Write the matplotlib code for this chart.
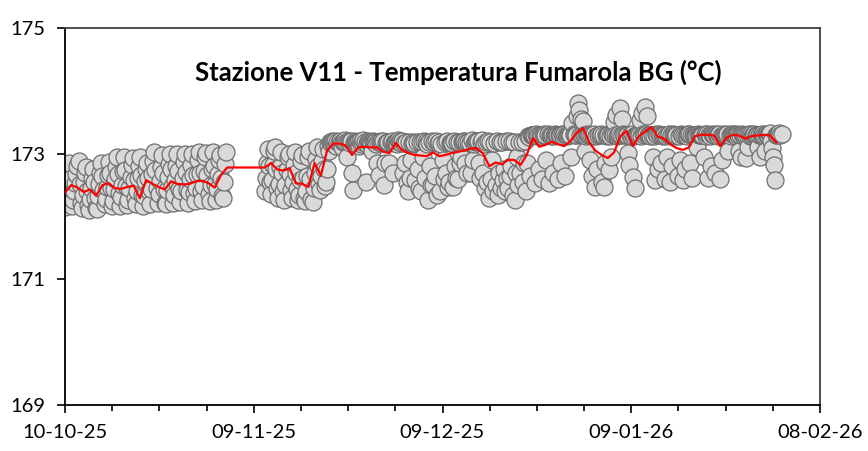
import numpy as np
import matplotlib
matplotlib.use("Agg")
import matplotlib.pyplot as plt
import matplotlib.dates as mdates

plt.rcParams['font.family'] = ['Lato', 'DejaVu Sans']

# --- letture ogni 4 ore (6 valori al giorno) ---
inizio_1 = np.datetime64('2025-10-10T00:00')
temp_1 = [
    172.15, 172.32, 172.50, 172.66, 172.85, 172.60,
    172.38, 172.16, 172.26, 172.40, 172.53, 172.68,
    172.80, 172.88, 172.52, 172.22, 172.13, 172.35,
    172.55, 172.70, 172.78, 172.40, 172.18, 172.11,
    172.28, 172.45, 172.62, 172.76, 172.55, 172.30,
    172.14, 172.12, 172.33, 172.52, 172.70, 172.85,
    172.64, 172.42, 172.20, 172.28, 172.47, 172.66,
    172.86, 172.70, 172.45, 172.16, 172.25, 172.43,
    172.60, 172.79, 172.94, 172.68, 172.38, 172.17,
    172.31, 172.50, 172.72, 172.95, 172.74, 172.48,
    172.19, 172.27, 172.46, 172.63, 172.82, 172.93,
    172.58, 172.30, 172.20, 172.40, 172.61, 172.80,
    172.95, 172.66, 172.35, 172.17, 172.33, 172.56,
    172.76, 172.85, 172.62, 172.40, 172.20, 172.44,
    172.68, 172.88, 173.02, 172.74, 172.45, 172.21,
    172.36, 172.57, 172.78, 172.98, 172.70, 172.43,
    172.22, 172.20, 172.42, 172.63, 172.84, 173.00,
    172.75, 172.48, 172.21, 172.35, 172.58, 172.80,
    172.99, 172.72, 172.44, 172.23, 172.40, 172.62,
    172.86, 173.00, 172.71, 172.42, 172.21, 172.39,
    172.60, 172.82, 172.99, 172.66, 172.38, 172.24,
    172.45, 172.68, 172.90, 173.02, 172.70, 172.41,
    172.26, 172.48, 172.72, 172.95, 173.01, 172.66,
    172.36, 172.24, 172.50, 172.76, 173.03, 172.80,
    172.52, 172.27, 172.44, 172.68, 172.90, 172.98,
    172.62, 172.32, 172.29, 172.55, 172.83, 173.03,
]

inizio_2 = np.datetime64('2025-11-11T00:00')
temp_2 = [
    172.40, 172.62, 172.85, 173.08, 172.80, 172.55,
    172.36, 172.58, 172.82, 173.05, 173.10, 172.75,
    172.45, 172.29, 172.52, 172.78, 173.02, 172.70,
    172.40, 172.27, 172.50, 172.74, 172.95, 173.00,
    172.68, 172.42, 172.30, 172.55, 172.82, 173.03,
    172.70, 172.44, 172.26, 172.35, 172.58, 172.88,
    172.98, 172.62, 172.30, 172.24, 172.40, 172.65,
    172.95, 173.05, 172.60, 172.28, 172.23, 172.45,
    172.70, 172.92, 173.10, 172.80, 172.52, 172.42,
    172.65, 172.88, 173.08, 172.75, 172.48, 172.55,
    172.75, 173.12, 173.05, 173.18, 173.17, 173.20,
    173.18, 173.15, 173.20, 173.12, 173.19, 173.17,
    173.20, 173.17, 173.10, 173.18, 173.19, 173.21,
    173.18, 172.95, 173.20, 173.19, 173.17, 173.20,
    172.69, 172.42, 173.17, 173.20, 173.19, 173.18,
    173.18, 173.12, 173.20, 173.16, 173.19, 173.21,
    173.19, 172.55, 173.15, 173.20, 173.18, 173.17,
    173.17, 173.05, 173.20, 173.18, 173.19, 173.16,
    172.85, 173.18, 172.66, 173.19, 173.20, 173.17,
    173.20, 172.50, 172.85, 173.17, 173.19, 173.18,
    172.85, 173.18, 173.20, 172.70, 173.17, 173.19,
    173.19, 173.15, 173.21, 173.18, 173.20, 173.17,
    173.20, 172.69, 173.17, 172.85, 173.19, 172.55,
    172.40, 173.18, 172.62, 172.90, 173.17, 173.19,
    173.17, 172.58, 173.19, 172.75, 172.45, 173.18,
    172.40, 173.18, 172.95, 173.20, 172.62, 173.19,
    173.15, 172.26, 173.19, 172.80, 172.50, 173.20,
    172.50, 173.18, 172.65, 173.20, 172.34, 173.17,
    173.19, 172.40, 173.16, 172.90, 172.60, 173.18,
    172.69, 173.20, 172.47, 172.55, 173.17, 173.19,
    173.17, 172.47, 173.20, 172.80, 172.62, 173.18,
    172.60, 173.19, 172.85, 172.95, 173.18, 173.20,
    173.20, 172.85, 173.18, 172.70, 173.19, 173.17,
    172.70, 173.21, 172.90, 173.15, 173.18, 173.20,
    173.18, 173.20, 172.85, 172.62, 173.19, 173.21,
    172.70, 173.15, 172.45, 173.19, 172.55, 173.20,
    172.29, 173.18, 172.60, 172.90, 172.40, 173.17,
    172.50, 173.20, 172.34, 172.70, 173.18, 172.45,
    173.19, 172.58, 172.75, 172.40, 173.20, 172.62,
    172.45, 173.20, 172.65, 172.80, 173.18, 172.35,
    173.18, 172.26, 172.70, 172.95, 172.50, 173.19,
    172.70, 173.19, 172.55, 172.85, 173.20, 172.40,
    172.85, 173.28, 173.26, 172.65, 173.30, 173.29,
    173.30, 173.29, 172.53, 173.31, 173.28, 173.30,
    172.75, 173.30, 173.28, 172.60, 173.29, 173.31,
    173.29, 172.90, 173.31, 172.53, 173.30, 173.28,
    173.30, 172.70, 173.28, 173.31, 173.29, 173.30,
    172.60, 173.29, 173.30, 172.85, 173.31, 173.28,
    173.31, 172.65, 173.29, 173.28, 173.30, 173.32,
    173.30, 172.95, 173.49, 173.31, 173.29, 173.30,
    173.60, 173.80, 173.70, 173.29, 173.55, 173.30,
    173.52, 173.30, 173.05, 173.28, 173.31, 173.29,
    173.29, 172.90, 173.30, 172.65, 173.28, 173.31,
    172.47, 173.28, 172.75, 173.30, 173.29, 173.31,
    172.55, 173.29, 172.47, 172.85, 173.30, 173.28,
    173.30, 172.74, 173.28, 172.95, 173.31, 173.29,
    173.50, 173.29, 173.62, 173.28, 173.30, 173.31,
    173.73, 173.30, 173.55, 173.31, 173.29, 173.30,
    173.29, 173.01, 172.82, 173.30, 173.28, 173.31,
    172.63, 173.28, 172.45, 173.29, 173.30, 173.31,
    173.30, 173.53, 173.28, 173.64, 173.31, 173.29,
    173.74, 173.31, 173.60, 173.29, 173.30, 173.28,
    173.30, 172.95, 173.28, 172.58, 173.31, 173.29,
    172.75, 173.31, 173.29, 172.85, 173.30, 173.28,
    173.30, 172.60, 173.28, 172.95, 173.29, 173.31,
    172.55, 173.29, 172.80, 173.31, 173.30, 173.28,
    173.30, 172.65, 173.28, 172.90, 173.31, 173.29,
    172.58, 173.29, 172.75, 173.30, 173.28, 173.31,
    173.31, 172.85, 173.29, 172.62, 173.30, 173.28,
    173.28, 173.30, 173.10, 173.31, 173.29, 173.30,
    173.30, 173.29, 172.95, 173.32, 173.28, 173.31,
    172.62, 173.30, 173.28, 172.80, 173.31, 173.29,
    173.29, 172.70, 173.31, 173.30, 173.28, 173.32,
    172.60, 173.28, 172.90, 173.29, 173.31, 173.30,
    173.30, 173.31, 173.05, 173.29, 173.28, 173.32,
    173.32, 173.29, 173.30, 173.28, 173.31, 173.30,
    173.05, 173.30, 172.95, 173.31, 173.29, 173.28,
    173.29, 172.93, 173.30, 173.10, 173.31, 173.28,
    173.31, 173.28, 173.30, 173.32, 173.29, 173.30,
    173.10, 173.29, 172.95, 173.30, 173.31, 173.28,
    173.30, 173.05, 173.31, 173.29, 173.28, 173.32,
    173.33, 173.20, 173.09, 172.95, 172.82, 172.58,
    173.30, 173.29, 173.31, 173.33, 173.30, 173.32,
]

# --- media mobile (valori giornalieri) ---
media_1 = [172.38, 172.50, 172.46, 172.39, 172.43, 172.33, 172.50, 172.53,
           172.45, 172.44, 172.47, 172.49, 172.29, 172.58, 172.52, 172.47,
           172.43, 172.56, 172.52, 172.51, 172.52, 172.56, 172.57, 172.53,
           172.46, 172.66, 172.78]
media_2 = [172.78, 172.85, 172.75, 172.73, 172.77, 172.53, 172.52, 172.47,
           172.85, 172.65, 173.05, 173.16, 173.16, 173.13, 172.98, 173.10,
           173.11, 173.10, 173.10, 173.03, 173.01, 173.17, 173.06, 173.01,
           172.98, 172.97, 172.96, 173.02, 172.96, 172.98, 173.01, 173.03,
           173.05, 173.08, 173.09, 173.00, 172.80, 172.86, 172.83, 172.90,
           172.90, 172.82, 172.98, 173.25, 173.11, 173.14, 173.19, 173.15,
           173.12, 173.20, 173.33, 173.41, 173.18, 173.05, 172.98, 172.93,
           173.02, 173.28, 173.36, 173.12, 173.28, 173.35, 173.42, 173.27,
           173.24, 173.15, 173.09, 173.06, 173.10, 173.28, 173.30, 173.30,
           173.29, 173.12, 173.25, 173.30, 173.29, 173.24, 173.28, 173.29,
           173.30, 173.29, 173.18]

etichette_x = ['10-10-25', '09-11-25', '09-12-25', '09-01-26', '08-02-26']
tick_y = [169, 171, 173, 175]
titolo = 'Stazione V11 - Temperatura Fumarola BG (°C)'

passo = np.timedelta64(4, 'h')
t1 = inizio_1 + passo * np.arange(len(temp_1))
t2 = inizio_2 + passo * np.arange(len(temp_2))
tempi = np.concatenate([t1, t2]).astype('datetime64[m]').astype(object)
valori = np.array(temp_1 + temp_2)

giorno = np.timedelta64(1, 'D')
g1 = np.datetime64('2025-10-10') + giorno * np.arange(len(media_1))
g2 = np.datetime64('2025-11-11') + giorno * np.arange(len(media_2))
tempi_media = np.concatenate([g1, g2]).astype(object)
media = np.array(media_1 + media_2)

fig = plt.figure(figsize=(8.68, 4.51), dpi=100)
ax = fig.add_axes([65 / 868, 1 - 405 / 451, 755 / 868, 377 / 451])

ax.scatter(tempi, valori, s=150, facecolor='#d9d9d9', edgecolor='#6e6e6e',
           linewidth=0.9, zorder=2)
ax.plot(tempi_media, media, color='#ff0000', linewidth=1.6, zorder=3)

x0 = mdates.date2num(np.datetime64('2025-10-10'))
x1 = mdates.date2num(np.datetime64('2026-02-08'))
ax.set_xlim(x0, x1)
ax.set_ylim(169, 175)
ax.set_xticks(np.linspace(x0, x1, len(etichette_x)))
ax.set_xticklabels(etichette_x)
ax.set_xticks(np.linspace(x0, x1, 4 * (len(etichette_x) - 1) + 1), minor=True)
ax.set_yticks(tick_y)
ax.set_yticklabels([str(v) for v in tick_y])

ax.tick_params(axis='both', which='major', direction='out', length=6,
               width=1.2, labelsize=14.5, colors='black')
ax.tick_params(axis='x', which='minor', direction='out', length=4, width=1.2)
ax.tick_params(axis='x', pad=8)
ax.tick_params(axis='y', pad=8)

for lato in ['left', 'bottom']:
    ax.spines[lato].set_color('black')
    ax.spines[lato].set_linewidth(1.3)
for lato in ['top', 'right']:
    ax.spines[lato].set_color('#404040')
    ax.spines[lato].set_linewidth(1.3)

ax.text(0.521, 0.883, titolo, transform=ax.transAxes, ha='center',
        va='center', fontsize=18.5, fontweight='bold')

fig.savefig('out.png', dpi=100)
